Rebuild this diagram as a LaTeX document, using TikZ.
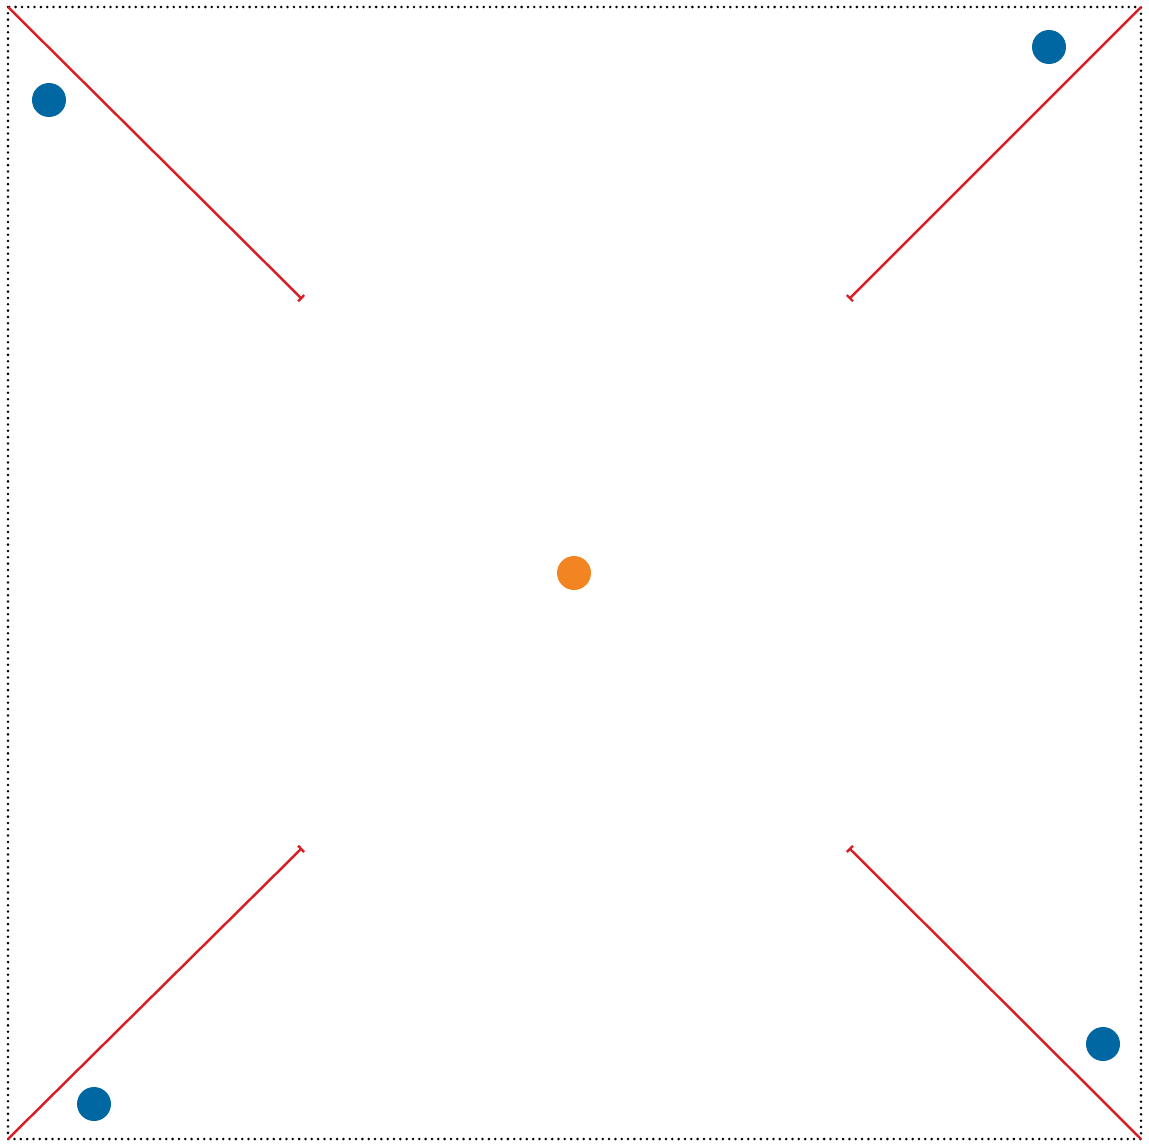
\documentclass[tikz,border=0pt]{standalone}
\usetikzlibrary{arrows.meta}
\definecolor{dotblue}{HTML}{0067A2}
\definecolor{dotorange}{HTML}{F28522}
\definecolor{wallred}{HTML}{D91F26}

\begin{document}
\begin{tikzpicture}[
    x=0.02cm, y=-0.02cm,
    frame/.style={draw=black, line width=1.6pt, line cap=round, dash pattern=on 0pt off 3.6pt},
    wall/.style={draw=wallred, line width=1.4pt, -{Bar[width=5pt,line width=1.4pt]}},
    agent/.style={circle, fill=dotblue, inner sep=0pt, minimum size=0.68cm},
    goal/.style={circle, fill=dotorange, inner sep=0pt, minimum size=0.68cm}
  ]
    \useasboundingbox (0,0) rectangle (1149,1143);
    \draw[frame] (8,7) rectangle (1141,1139);

    % corners and inner ends
    \coordinate (tl) at (8,7);
    \coordinate (tr) at (1141,7);
    \coordinate (bl) at (8,1139);
    \coordinate (br) at (1141,1139);
    \coordinate (tl-end) at (302,299);
    \coordinate (tr-end) at (849,299);
    \coordinate (bl-end) at (302,848);
    \coordinate (br-end) at (849,848);

    \draw[wall] (tl) -- (tl-end);
    \draw[wall] (tr) -- (tr-end);
    \draw[wall] (bl) -- (bl-end);
    \draw[wall] (br) -- (br-end);

    \node[goal] (center) at (574,573) {};
    \node[agent] (a1) at (49,100) {};
    \node[agent] (a2) at (1049,47) {};
    \node[agent] (a3) at (94,1104) {};
    \node[agent] (a4) at (1103,1044) {};
  \end{tikzpicture}
\end{document}
